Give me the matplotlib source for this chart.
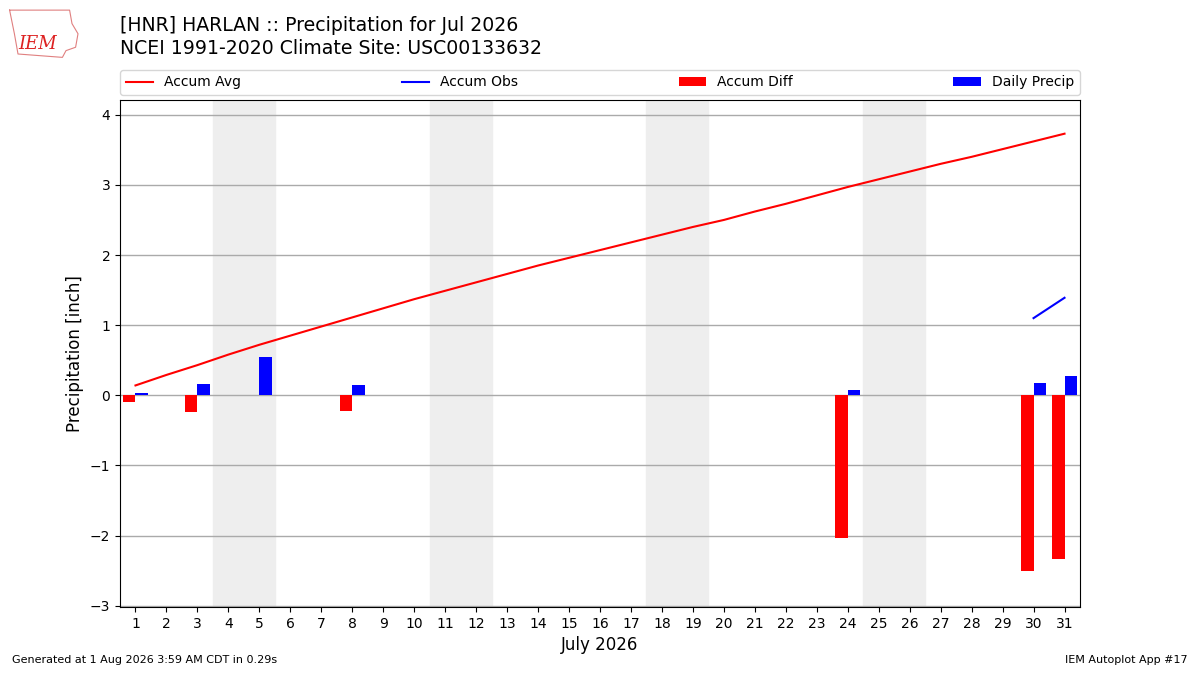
import numpy as np
import matplotlib
matplotlib.use("Agg")
import matplotlib.pyplot as plt

days = np.arange(1, 32)

# accumulated climatology (inch)
accum_avg = [0.14, 0.29, 0.43, 0.58, 0.72, 0.85, 0.98, 1.11, 1.24, 1.37,
             1.49, 1.61, 1.73, 1.85, 1.96, 2.07, 2.18, 2.29, 2.40, 2.50,
             2.62, 2.73, 2.85, 2.97, 3.08, 3.19, 3.30, 3.40, 3.51, 3.62, 3.73]

nan = np.nan
# observed accumulation only reported for the last two days
accum_obs = [nan] * 29 + [1.10, 1.39]

precip_days = [1, 3, 5, 8, 24, 30, 31]
daily_precip = [0.03, 0.16, 0.54, 0.14, 0.07, 0.18, 0.28]
diff_days = [1, 3, 5, 8, 24, 30, 31]
accum_diff = [-0.10, -0.24, 0.0, -0.23, -2.04, -2.51, -2.33]

weekends = [4, 11, 18, 25]

fig = plt.figure(figsize=(12, 6.75), dpi=100)
ax = fig.add_axes([0.1, 0.1007, 0.8, 0.7511])

for d in weekends:
    ax.axvspan(d - 0.5, d + 1.5, color="#eeeeee", zorder=0)

ax.plot(days, accum_avg, color="r", lw=1.5, label="Accum Avg", zorder=3)
ax.plot(days, accum_obs, color="b", lw=1.5, label="Accum Obs", zorder=3)
ax.bar(diff_days, accum_diff, width=-0.4, align="edge", color="r",
       label="Accum Diff", zorder=2)
ax.bar(precip_days, daily_precip, width=0.4, align="edge", color="b",
       label="Daily Precip", zorder=2)

ax.set_xlim(0.5, 31.5)
ax.set_ylim(-3.02, 4.21)
ax.set_xticks(days)
ax.set_yticks(range(-3, 5))
ax.grid(axis="y", color="#aaaaaa", lw=1)
ax.set_axisbelow(True)
ax.set_xlabel("July 2026", fontsize=12)
ax.set_ylabel("Precipitation [inch]", fontsize=12)

ax.legend(ncol=4, loc="lower left", mode="expand",
          bbox_to_anchor=(0, 1.01, 1, 0.05), borderaxespad=0, fontsize=10)

fig.text(0.1, 0.962, "[HNR] HARLAN :: Precipitation for Jul 2026",
         fontsize=13.6, va="center")
fig.text(0.1, 0.928, "NCEI 1991-2020 Climate Site: USC00133632",
         fontsize=13.6, va="center")

# stand-in for the IEM logo: rough Iowa outline plus the letters
iowa_x = [0.008, 0.058, 0.060, 0.065, 0.063, 0.055, 0.052, 0.015, 0.012, 0.008]
iowa_y = [0.985, 0.985, 0.965, 0.950, 0.930, 0.925, 0.915, 0.920, 0.950, 0.985]
fig.add_artist(plt.Line2D(iowa_x, iowa_y, color="#e08080", lw=0.8,
                          transform=fig.transFigure))
fig.text(0.031, 0.935, "IEM", color="#dd2222", fontsize=13, family="serif",
         style="italic", va="center", ha="center")

fig.text(0.01, 0.015, "Generated at 1 Aug 2026 3:59 AM CDT in 0.29s",
         fontsize=8, va="bottom")
fig.text(0.99, 0.015, "IEM Autoplot App #17", fontsize=8, ha="right",
         va="bottom")

fig.savefig("out.png", dpi=100)
